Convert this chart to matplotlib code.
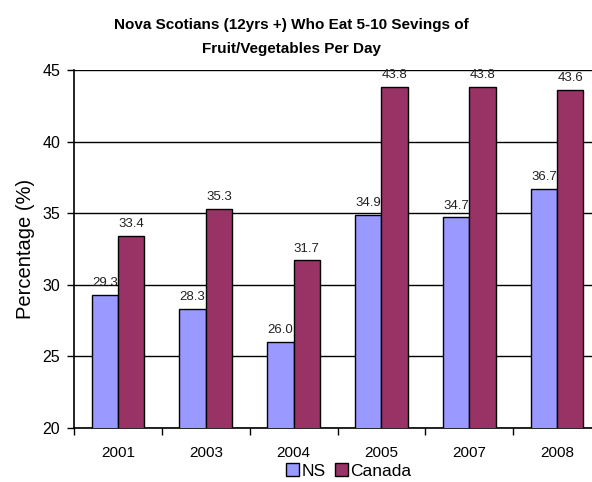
import matplotlib
matplotlib.use("Agg")
import matplotlib.pyplot as plt
import numpy as np

years = ["2001", "2003", "2004", "2005", "2007", "2008"]
ns = [29.3, 28.3, 26.0, 34.9, 34.7, 36.7]
canada = [33.4, 35.3, 31.7, 43.8, 43.8, 43.6]
series_names = ["NS", "Canada"]

plt.rcParams['font.family'] = ['Liberation Sans', 'DejaVu Sans']

fig = plt.figure(figsize=(5.92, 4.82), dpi=100)
ax = fig.add_axes([74/592, 1 - 428/482, (601 - 74)/592, (428 - 70)/482])

x = np.arange(len(years))
w = 0.3
b1 = ax.bar(x - w/2, ns, w, color="#9999FF", edgecolor="black", linewidth=1.0, label=series_names[0], zorder=3)
b2 = ax.bar(x + w/2, canada, w, color="#993366", edgecolor="black", linewidth=1.0, label=series_names[1], zorder=3)

for rect, v in list(zip(b1, ns)) + list(zip(b2, canada)):
    ax.text(rect.get_x() + rect.get_width()/2, v + 0.4, f"{v:.1f}", ha="center", va="bottom",
            fontsize=9.5, color="#222222", zorder=4)

ax.set_xlim(-0.5, len(years) - 0.5)
ax.set_ylim(20, 45)
ax.set_yticks([20, 25, 30, 35, 40, 45])
ax.set_yticklabels(["20", "25", "30", "35", "40", "45"], fontsize=11.5)
ax.yaxis.grid(True, color="black", linewidth=1.0, zorder=0)
ax.set_axisbelow(True)

ax.set_xticks(x)
ax.set_xticklabels(years, fontsize=11)
ax.tick_params(axis="x", length=0, pad=13)
ax.set_xticks(np.arange(-0.5, len(years)), minor=True)
ax.tick_params(axis="x", which="minor", length=5, width=1, direction="out")
ax.tick_params(axis="y", length=5, width=1, direction="out", pad=5)

for s in ["top", "right"]:
    ax.spines[s].set_visible(False)
ax.spines["left"].set_linewidth(1.2)
ax.spines["bottom"].set_linewidth(1.2)

ax.set_ylabel("Percentage (%)", fontsize=14.5, labelpad=5)

fig.text(291/592, 1 - 37/482, "Nova Scotians (12yrs +) Who Eat 5-10 Sevings of\nFruit/Vegetables Per Day",
         ha="center", va="center", fontsize=11, fontweight="bold", linespacing=2.0)

leg = fig.legend(handles=[b1, b2], labels=series_names, loc="center", bbox_to_anchor=(349/592, 1 - 471/482),
                 ncol=2, frameon=False, fontsize=12.5, handlelength=0.75, handleheight=0.75,
                 handletextpad=0.15, columnspacing=0.5, borderaxespad=0, borderpad=0)

fig.savefig("out.png", dpi=100)
